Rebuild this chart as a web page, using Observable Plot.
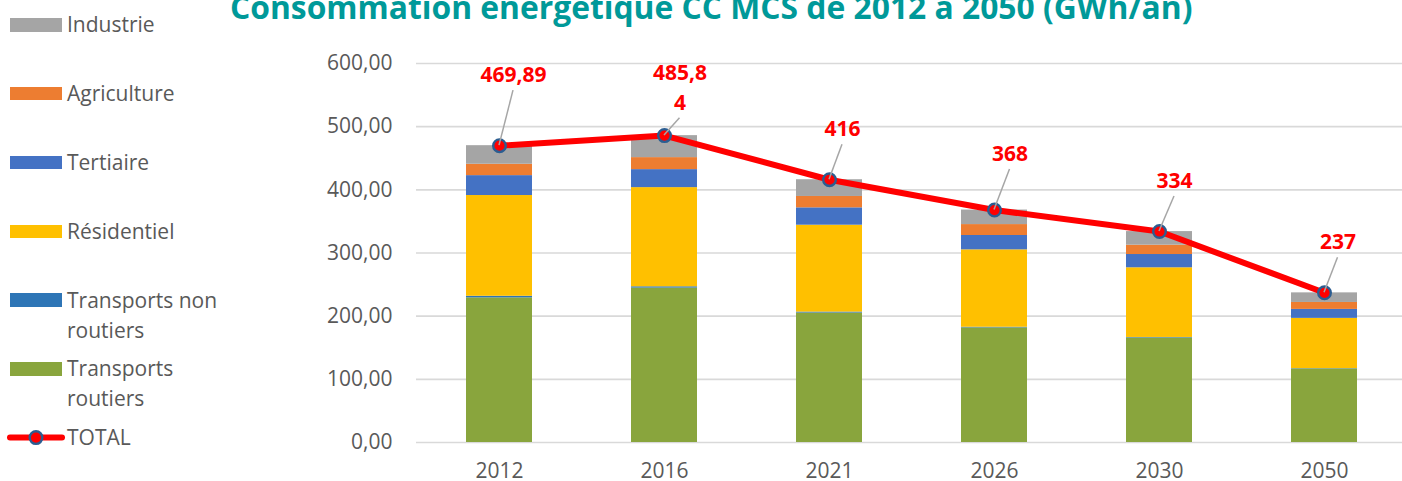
<!DOCTYPE html>
<html><head><meta charset="utf-8">
<script src="https://cdn.jsdelivr.net/npm/d3@7"></script>
<script src="https://cdn.jsdelivr.net/npm/@observablehq/plot@0.6"></script>
<style>
html,body{margin:0;padding:0;overflow:hidden;background:#fff;}
#wrap{position:relative;width:1408px;height:481px;overflow:hidden;font-family:"Open Sans",sans-serif;}
#chart{position:absolute;left:0;top:0;}
#title{position:absolute;left:230px;white-space:nowrap;font-weight:700;color:#009999;line-height:1;}
.leg{position:absolute;left:0;width:260px;height:30px;}
.leg .sw{position:absolute;left:10px;width:52px;height:13.4px;top:8.9px;}
.leg .tx{position:absolute;left:67px;top:0;width:165px;font-size:21px;line-height:30px;color:#595959;}
</style></head>
<body><div id="wrap"><div id="chart"></div><div id="title"></div><div id="legend"></div></div>
<script>
// ---- data ----
const title = "Consommation énergétique CC MCS de 2012 à 2050 (GWh/an)";
const years = ["2012", "2016", "2021", "2026", "2030", "2050"];
const sectors = ["Transports routiers", "Transports non routiers", "Résidentiel", "Tertiaire", "Agriculture", "Industrie"];
const transportsRoutiers    = [229, 244.5, 205, 181.5, 165.5, 116.5];
const transportsNonRoutiers = [2.5, 2, 1.5, 1, 0.8, 0.5];
const residentiel           = [159.5, 157, 137.5, 122.5, 110.3, 79.5];
const tertiaire             = [31.5, 28.5, 27.5, 22.7, 21, 14.2];
const agriculture           = [18, 19, 18, 17.3, 14.8, 11];
const industrie             = [29.4, 34.8, 26.5, 23, 21.5, 15.2];
const totals = [469.89, 485.84, 416, 368, 334, 237];
const totalLabels = ["469,89", "485,8\n4", "416", "368", "334", "237"];
const yTicks = [0, 100, 200, 300, 400, 500, 600];

// ---- styles / layout ----
const colors = ["#89a53d", "#2e75b6", "#ffc000", "#4472c4", "#ed7d31", "#a5a5a5"];
const labelOffsets = [
  {dx: 14, dy: -73, lines: 1}, {dx: 15.5, dy: -50, lines: 2}, {dx: 13, dy: -53, lines: 1},
  {dx: 15.5, dy: -58.5, lines: 1}, {dx: 15, dy: -53, lines: 1}, {dx: 13.5, dy: -53, lines: 1}
];
const labelFont = 21, labelLineHeight = 1.4;

const series = [transportsRoutiers, transportsNonRoutiers, residentiel, tertiaire, agriculture, industrie];
const rows = [];
years.forEach((yr, i) => sectors.forEach((s, j) => rows.push({year: yr, sector: s, value: series[j][i]})));
const totalRows = years.map((yr, i) => ({year: yr, total: totals[i]}));

function leaders(index, scales, values, dimensions) {
  const sx = scales.x, sy = scales.y;
  const bw = typeof sx.bandwidth === "function" ? sx.bandwidth() : 0;
  const g = d3.create("svg:g");
  years.forEach((yr, i) => {
    const o = labelOffsets[i];
    const x0 = sx(yr) + bw / 2, y0 = sy(totals[i]);
    const endDy = o.dy + (o.lines - 1) * labelFont * labelLineHeight / 2 + 18;
    g.append("line").attr("x1", x0).attr("y1", y0).attr("x2", x0 + o.dx).attr("y2", y0 + endDy)
      .attr("stroke", "#a6a6a6").attr("stroke-width", 1.5);
  });
  return g.node();
}

const chart = Plot.plot({
  width: 1408, height: 481,
  marginLeft: 416, marginRight: 0, marginTop: 63, marginBottom: 39,
  style: {fontFamily: "Open Sans", fontSize: "21px", color: "#595959", background: "transparent", maxWidth: "none"},
  x: {domain: years, type: "band", paddingInner: 0.6, paddingOuter: 0.3, label: null},
  y: {domain: [0, 600], label: null},
  color: {domain: sectors, range: colors},
  marks: [
    Plot.gridY(yTicks, {stroke: "#d9d9d9", strokeOpacity: 1, strokeWidth: 1.6}),
    Plot.barY(rows, Plot.stackY({x: "year", y: "value", fill: "sector", order: sectors})),
    Plot.axisY(yTicks, {tickSize: 0, tickPadding: 24, tickFormat: d => d.toFixed(2).replace(".", ","), fontSize: 21}),
    Plot.axisX({tickSize: 0, tickPadding: 21, fontSize: 21}),
    Plot.line(totalRows, {x: "year", y: "total", stroke: "#ff0000", strokeWidth: 6}),
    Plot.dot(totalRows, {x: "year", y: "total", r: 6.3, fill: "#ff0000", stroke: "#2b5d91", strokeWidth: 2.4}),
    leaders,
    ...years.map((yr, i) => Plot.text([i], {
      x: k => years[k], y: k => totals[k], text: k => totalLabels[k],
      dx: labelOffsets[i].dx, dy: labelOffsets[i].dy,
      fill: "#ff0000", fontWeight: 700, fontSize: labelFont, lineHeight: labelLineHeight
    }))
  ]
});
document.getElementById("chart").appendChild(chart);

// title, sized to the reference width
const t = document.getElementById("title");
const ctx = document.createElement("canvas").getContext("2d");
ctx.font = '700 100px "Open Sans"';
const fs = 100 * 963 / ctx.measureText(title).width;
t.style.fontSize = fs + "px";
t.style.top = (19.5 - 0.888 * fs) + "px";
t.textContent = title;

// legend
const legendItems = ["Industrie", "Agriculture", "Tertiaire", "Résidentiel", "Transports non routiers", "Transports routiers"];
const leg = document.getElementById("legend");
legendItems.forEach((name, i) => {
  const c = 25 + 68.8 * i;
  const d = document.createElement("div");
  d.className = "leg"; d.style.top = (c - 15.6) + "px";
  const sw = document.createElement("div"); sw.className = "sw";
  sw.style.background = colors[sectors.indexOf(name)];
  const tx = document.createElement("div"); tx.className = "tx"; tx.textContent = name;
  d.appendChild(sw); d.appendChild(tx); leg.appendChild(d);
});
{
  const c = 25 + 68.8 * 6;
  const d = document.createElement("div");
  d.className = "leg"; d.style.top = (c - 15.6) + "px";
  const s = d3.create("svg").attr("width", 66).attr("height", 30).style("position", "absolute").style("left", "0px").style("top", "0px");
  s.append("line").attr("x1", 10).attr("x2", 62).attr("y1", 15.6).attr("y2", 15.6).attr("stroke", "#ff0000").attr("stroke-width", 6).attr("stroke-linecap", "round");
  s.append("circle").attr("cx", 36).attr("cy", 15.6).attr("r", 6.3).attr("fill", "#ff0000").attr("stroke", "#2b5d91").attr("stroke-width", 2.4);
  const tx = document.createElement("div"); tx.className = "tx"; tx.textContent = "TOTAL";
  d.appendChild(s.node()); d.appendChild(tx); leg.appendChild(d);
}
</script></body></html>
